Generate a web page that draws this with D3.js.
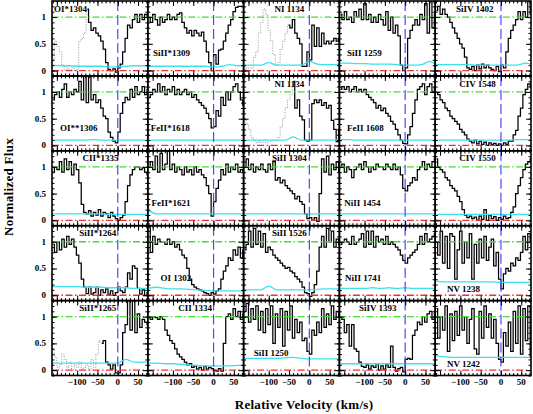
<!DOCTYPE html>
<html>
<head>
<meta charset="utf-8">
<script src="https://cdn.jsdelivr.net/npm/d3@7"></script>
<style>
  body { margin: 0; background: #fff; }
  svg { display: block; }
  text { font-family: "Liberation Serif", "DejaVu Serif", serif; fill: #000; }
</style>
</head>
<body>
<svg width="533" height="414"></svg>
<script>
const _ = null;

// velocity bins (km/s), shared by every panel
const velocity = [-159,-153,-147,-141,-135,-129,-123,-117,-111,-105,-99,-93,-87,-81,-75,-69,-63,-57,-51,-45,
                  -39,-33,-27,-21,-15,-9,-3,3,9,15,21,27,33,39,45,51,57,63,69,75];
// velocities of the error spectrum samples
const errVel = [-162,-140,-120,-100,-80,-60,-40,-20,0,20,40,60,74];

// normalized flux, one array per transition
const fOIs1304 = [_,_,_,_,_,_,_,_,_,_,_,_,_,_,1.15,0.9,0.75,0.8,0.7,0.65,0.55,0.4,0.15,0.02,0.0,0.03,-0.03,0.05,0.12,0.35,0.6,0.85,0.8,0.95,1.05,0.9,1.05,0.95,1.05,1.0];
const fSiIIs1309 = [1.0,0.9,1.05,0.95,0.85,1.0,0.9,0.95,1.05,0.95,1.0,0.95,1.05,1.08,0.9,0.8,0.7,0.75,0.65,0.75,0.7,0.65,0.72,0.55,0.35,0.15,0.0,0.3,0.12,0.38,0.4,0.55,0.7,0.85,0.95,1.1,1.18,1.2,1.2,1.2];
const fNI1134a = [_,_,_,_,_,_,_,_,_,_,_,_,_,_,_,_,_,_,0.85,0.8,0.95,0.7,0.6,0.5,0.08,0.08,0.35,0.2,0.85,0.45,0.8,0.45,0.7,0.5,0.55,0.5,0.55,0.6,0.55,0.6];
const fSiII1259 = [1.05,0.95,1.1,0.95,1.0,0.9,1.1,1.0,1.15,0.95,1.25,0.95,1.05,0.9,1.0,0.9,1.05,0.95,0.85,1.1,0.75,1.0,0.7,0.85,0.65,0.1,0.0,0.05,0.6,0.75,0.85,0.95,0.85,1.05,0.95,1.25,0.7,1.3,0.8,1.05];
const fSiIV1402 = [1.12,1.2,1.05,1.15,1.05,1.0,0.9,0.8,0.7,0.6,0.5,0.42,0.25,0.05,0.02,0.08,0.0,0.1,0.03,0.12,0.05,0.1,0.05,0.02,0.0,0.08,-0.02,0.1,0.05,0.35,0.6,0.75,0.85,0.95,1.1,0.95,1.1,1.0,1.3,1.05];

const fOIss1306 = [0.85,0.95,1.0,0.9,1.05,1.15,0.9,1.0,0.95,1.05,1.0,1.2,0.85,1.3,0.8,1.3,0.85,0.95,0.8,0.85,0.7,0.55,0.5,0.25,0.15,0.08,0.05,0.25,0.6,0.8,0.9,0.85,1.05,0.9,1.1,0.95,1.0,1.1,0.95,1.05];
const fFeIIs1618 = [0.9,0.95,1.05,1.0,1.15,1.0,1.1,0.95,1.05,1.0,1.1,0.95,1.05,0.95,1.0,1.05,0.95,1.0,0.9,0.95,0.85,0.8,0.75,0.7,0.6,0.5,0.33,0.35,0.65,0.55,0.9,0.75,1.0,0.85,1.0,1.1,1.15,1.0,0.85,0.75];
const fNI1134b = [_,_,_,_,_,_,_,_,_,_,_,_,_,_,_,_,_,_,_,_,1.2,0.7,0.85,0.55,0.48,0.1,0.08,0.1,0.78,0.85,0.8,0.85,0.75,0.8,0.7,0.75,0.47,0.3,0.07,0.3];
const fFeII1608 = [1.05,1.1,1.05,1.1,1.0,1.05,1.1,1.0,1.05,1.0,1.05,0.95,0.9,0.85,0.8,0.7,0.75,0.65,0.7,0.6,0.55,0.45,0.4,0.3,0.2,0.1,0.04,0.03,0.2,0.35,0.6,0.85,1.05,1.1,1.15,0.95,1.1,1.15,1.0,1.1];
const fCIV1548 = [1.0,0.95,0.85,0.8,0.7,0.65,0.55,0.5,0.45,0.4,0.3,0.25,0.2,0.12,0.08,0.05,0.1,0.03,0.08,0.02,0.06,0.0,0.05,0.02,0.04,0.0,0.03,0.0,0.05,0.02,0.08,0.08,0.2,0.28,0.55,0.7,0.95,1.05,1.15,1.1];

const fCIIs1335 = [0.9,1.0,0.95,1.1,0.9,1.15,0.95,1.1,0.85,1.05,0.95,0.7,0.3,0.15,0.12,0.18,0.08,0.15,0.1,0.2,0.08,0.15,0.12,0.05,0.15,0.08,0.03,0.0,0.05,0.1,0.35,0.65,0.85,0.95,1.0,1.0,0.95,0.98,0.9,0.85];
const fFeIIs1621 = [1.0,1.1,0.95,1.2,0.9,1.25,0.95,1.05,1.3,0.95,1.05,0.9,1.0,0.95,0.85,1.0,0.9,0.95,0.85,1.0,0.9,0.95,0.85,0.8,0.65,0.5,0.08,0.35,0.6,0.75,0.95,0.85,1.05,0.9,1.0,0.95,1.05,0.9,0.95,0.9];
const fSiII1304 = [1.0,1.15,0.95,1.05,0.9,1.0,0.95,1.05,0.95,0.9,1.05,0.95,1.1,0.75,0.8,0.7,0.75,0.65,0.6,0.55,0.5,0.4,0.45,0.35,0.3,0.12,0.03,0.05,0.0,0.05,-0.02,0.5,1.15,0.9,1.2,0.85,1.05,0.95,1.1,0.9];
const fNiII1454 = [1.0,1.05,0.9,1.0,0.95,0.8,0.95,1.0,1.05,0.95,1.1,1.0,0.9,1.0,0.95,1.05,1.0,1.0,0.95,1.05,1.0,0.95,1.05,0.95,1.0,0.85,0.6,0.55,0.65,0.7,0.8,0.75,0.95,1.0,1.1,0.95,1.05,1.0,1.1,1.15];
const fCIV1550 = [1.15,1.0,0.95,0.9,0.8,0.75,0.65,0.6,0.55,0.45,0.35,0.2,0.1,0.05,0.08,0.03,0.06,0.0,0.08,0.02,0.2,0.0,0.1,0.03,0.07,0.0,0.05,0.02,0.08,0.03,0.05,0.15,0.25,0.5,0.65,0.8,0.95,1.05,1.1,1.15];

const fSiIIs1264 = [0.95,0.8,1.0,0.85,1.05,0.9,1.1,0.95,1.05,0.9,0.75,0.6,0.3,0.15,0.03,0.15,0.02,0.05,0.15,0.0,0.1,0.05,0.12,0.02,0.08,0.0,0.05,0.15,0.08,0.05,0.15,0.42,0.3,0.55,0.5,0.13,0.02,0.1,0.0,0.05];
const fOI1302 = [1.3,0.8,1.1,0.95,1.05,1.0,1.0,0.95,1.05,0.95,1.0,0.9,0.95,0.85,0.75,0.7,0.5,0.3,0.2,0.15,0.12,0.1,0.08,0.05,0.03,0.0,0.05,0.02,0.08,0.12,0.3,0.45,0.55,0.7,0.65,0.85,0.75,0.9,0.7,0.85];
const fSiII1526 = [0.85,0.95,1.2,0.9,1.25,0.95,1.2,0.9,1.15,0.8,0.9,0.85,0.75,0.7,0.65,0.6,0.55,0.5,0.52,0.45,0.42,0.35,0.3,0.25,0.15,0.05,0.03,-0.02,0.05,0.2,0.45,0.9,1.1,0.9,1.25,1.0,1.2,0.9,1.05,0.95];
const fNiII1741 = [0.95,1.0,1.05,1.0,0.95,1.1,0.95,1.0,1.05,1.15,0.9,1.2,0.95,1.2,0.9,1.1,1.0,1.05,0.95,1.1,0.95,1.0,0.95,0.9,0.85,0.75,0.65,0.6,0.7,0.75,0.8,0.85,0.95,1.1,0.95,1.15,1.0,1.05,1.1,1.15];
const fNV1238 = [1.0,0.75,1.2,0.6,1.1,0.5,1.15,1.1,0.3,0.85,1.2,0.6,1.0,0.7,1.15,0.3,0.95,0.6,1.05,0.7,1.1,0.65,0.9,1.05,0.55,0.8,0.3,0.12,0.4,0.5,0.45,0.6,0.55,0.7,0.65,0.8,1.1,0.85,1.15,1.0];

const fSiIIs1265 = [_,_,_,_,_,_,_,_,_,_,_,_,_,_,_,_,_,_,_,_,0.5,0.55,0.15,0.1,0.02,0.1,-0.05,-0.05,0.1,0.7,0.85,1.3,0.75,1.3,0.7,1.05,0.8,0.95,0.9,0.85];
const fCII1334 = [1.0,0.95,1.0,0.98,0.95,1.0,0.95,0.75,0.65,0.55,0.5,0.4,0.3,0.25,0.2,0.15,0.1,0.12,0.05,0.08,0.02,0.05,0.0,0.07,0.02,0.05,0.03,0.0,-0.02,0.03,-0.02,0.5,1.0,1.05,0.95,1.15,1.0,1.1,0.95,1.05];
const fSiII1250 = [1.1,1.25,0.9,1.15,0.95,1.2,0.75,1.1,0.7,1.15,0.85,1.2,0.5,1.05,0.8,1.15,0.45,1.1,0.75,1.2,0.6,0.95,0.7,0.9,0.55,0.6,0.35,0.3,0.75,0.65,0.9,0.7,1.15,0.8,1.05,0.85,1.2,0.95,1.1,1.0];
const fSiIV1393 = [1.0,0.95,0.7,0.85,0.45,0.85,0.4,0.35,0.15,0.07,0.05,0.1,0.02,0.08,0.05,0.12,0.0,0.08,0.02,0.1,0.05,0.45,0.05,-0.02,0.03,0.05,-0.03,0.2,0.22,0.2,0.65,0.75,0.9,0.85,1.0,0.9,1.05,1.1,0.95,1.1];
const fNV1242 = [1.15,0.6,1.0,0.75,1.2,0.35,1.05,0.55,1.1,0.65,1.2,0.75,1.0,0.5,0.95,1.15,0.4,0.3,1.1,0.6,1.2,0.8,1.05,0.6,0.95,0.5,0.2,0.15,0.7,0.45,0.9,0.35,1.1,0.5,1.2,0.3,1.15,0.55,1.2,0.25];

// blended / other-line flux (dotted)
const dOIs1304 = [0.2,0.55,0.45,0.35,0.1,0.02,0.05,0.0,0.05,0.0,0.03,0.55,0.6,0.7,1.15,_,_,_,_,_,_,_,_,_,_,_,_,_,_,_,_,_,_,_,_,_,_,_,_,_];
const dNI1134a = [0.02,0.05,0.0,0.05,0.25,0.35,0.7,0.9,1.15,1.05,0.75,0.55,0.3,0.1,0.15,0.4,0.55,0.7,0.85,_,_,_,_,_,_,_,_,_,_,_,_,_,_,_,_,_,_,_,_,_];
const dNI1134b = [0.5,0.4,0.3,0.15,0.1,0.05,0.08,0.05,0.1,0.05,0.08,0.08,0.1,0.1,0.15,0.35,0.5,0.7,0.85,0.95,1.2,_,_,_,_,_,_,_,_,_,_,_,_,_,_,_,_,_,_,_];
const dSiIIs1265 = [0.4,0.25,0.05,0.1,0.3,0.2,0.05,0.15,0.0,0.1,0.05,0.15,0.02,0.05,0.1,0.0,0.2,0.05,0.3,0.55,0.5,_,_,_,_,_,_,_,_,_,_,_,_,_,_,_,_,_,_,_];

// 1-sigma error spectra, sampled at errVel
const errs = [
  [0.1,0.09,0.09,0.08,0.08,0.08,0.08,0.07,0.07,0.08,0.09,0.09,0.09],
  [0.08,0.08,0.08,0.08,0.08,0.08,0.08,0.08,0.07,0.08,0.11,0.09,0.09],
  [0.1,0.1,0.1,0.15,0.1,0.1,0.1,0.1,0.17,0.12,0.11,0.11,0.11],
  [0.14,0.14,0.13,0.13,0.12,0.12,0.12,0.11,0.1,0.1,0.11,0.17,0.12],
  [0.11,0.11,0.11,0.11,0.11,0.1,0.1,0.1,0.1,0.1,0.1,0.14,0.12],
  [0.1,0.1,0.1,0.1,0.1,0.11,0.1,0.1,0.1,0.1,0.1,0.1,0.1],
  [0.1,0.1,0.1,0.1,0.1,0.1,0.1,0.1,0.1,0.1,0.1,0.1,0.1],
  [0.1,0.1,0.1,0.1,0.1,0.1,0.16,0.1,0.1,0.1,0.1,0.1,0.1],
  [0.11,0.11,0.1,0.1,0.1,0.1,0.1,0.1,0.1,0.1,0.1,0.1,0.1],
  [0.1,0.1,0.1,0.1,0.1,0.1,0.1,0.1,0.1,0.1,0.11,0.11,0.11],
  [0.12,0.12,0.12,0.12,0.12,0.12,0.12,0.11,0.11,0.11,0.11,0.11,0.11],
  [0.2,0.12,0.12,0.12,0.12,0.12,0.12,0.12,0.12,0.12,0.12,0.12,0.12],
  [0.12,0.12,0.12,0.12,0.12,0.12,0.12,0.12,0.12,0.12,0.12,0.12,0.12],
  [0.12,0.12,0.12,0.12,0.12,0.12,0.12,0.12,0.12,0.12,0.12,0.12,0.12],
  [0.11,0.11,0.11,0.11,0.11,0.11,0.11,0.11,0.11,0.11,0.11,0.11,0.11],
  [0.16,0.16,0.16,0.16,0.15,0.15,0.15,0.14,0.14,0.14,0.13,0.13,0.13],
  [0.13,0.15,0.13,0.12,0.12,0.11,0.1,0.09,0.08,0.08,0.08,0.08,0.08],
  [0.1,0.1,0.1,0.17,0.1,0.1,0.1,0.1,0.1,0.11,0.12,0.12,0.12],
  [0.13,0.13,0.13,0.13,0.14,0.13,0.14,0.13,0.14,0.13,0.13,0.13,0.13],
  [0.27,0.25,0.25,0.25,0.25,0.25,0.25,0.25,0.24,0.24,0.24,0.24,0.24],
  [0.13,0.13,0.13,0.13,0.13,0.13,0.13,0.13,0.13,0.2,0.15,0.15,0.15],
  [0.13,0.13,0.12,0.12,0.11,0.1,0.09,0.08,0.08,0.08,0.08,0.09,0.09],
  [0.22,0.22,0.22,0.22,0.22,0.23,0.24,0.22,0.21,0.21,0.21,0.21,0.21],
  [0.12,0.12,0.12,0.12,0.12,0.12,0.12,0.12,0.12,0.12,0.12,0.12,0.12],
  [0.27,0.25,0.24,0.24,0.24,0.24,0.24,0.24,0.24,0.24,0.24,0.24,0.24]
];

const ionLabels = ["OI*1304","SiII*1309","NI 1134","SiII 1259","SiIV 1402",
                   "OI**1306","FeII*1618","NI 1134","FeII 1608","CIV 1548",
                   "CII*1335","FeII*1621","SiII 1304","NiII 1454","CIV 1550",
                   "SiII*1264","OI 1302","SiII 1526","NiII 1741","NV 1238",
                   "SiII*1265","CII 1334","SiII 1250","SiIV 1393","NV 1242"];
// label anchor in data units (velocity, flux)
const labelVel = [-157,-149,-86,-143,-111, -142,-155,-86,-143,-103, -87,-153,-92,-150,-103, -95,-131,-92,-148,-133, -95,-87,-137,-114,-133];
const labelFlux = [1.1,0.27,1.1,0.27,1.1, 0.27,0.27,1.1,0.27,1.1, 1.1,0.27,1.1,0.27,1.1, 1.1,0.27,1.1,0.27,0.06, 1.1,1.1,0.27,1.1,0.06];

const fluxes = [fOIs1304,fSiIIs1309,fNI1134a,fSiII1259,fSiIV1402,
                fOIss1306,fFeIIs1618,fNI1134b,fFeII1608,fCIV1548,
                fCIIs1335,fFeIIs1621,fSiII1304,fNiII1454,fCIV1550,
                fSiIIs1264,fOI1302,fSiII1526,fNiII1741,fNV1238,
                fSiIIs1265,fCII1334,fSiII1250,fSiIV1393,fNV1242];
const blends = [dOIs1304,_,dNI1134a,_,_, _,_,dNI1134b,_,_, _,_,_,_,_, _,_,_,_,_, dSiIIs1265,_,_,_,_];

const xTickLabels = [-100,-50,0,50];
const yTickLabels = [0,0.5,1];

// ---- layout
const mLeft = 52, mRight = 531, mTop = 1, mBottom = 375.5;
const pw = (mRight - mLeft) / 5, ph = (mBottom - mTop) / 5;

const x = d3.scaleLinear().domain([-162, 74]).range([0, pw]);
const y = d3.scaleLinear().domain([-0.1, 1.3]).range([ph, 0]);

const svg = d3.select("svg");
svg.append("defs").append("clipPath").attr("id", "clip")
  .append("rect").attr("width", pw).attr("height", ph);

const stepLine = d3.line()
  .defined(d => d[1] != null)
  .x(d => x(d[0])).y(d => y(d[1]))
  .curve(d3.curveStep);
const errLine = d3.line().x(d => x(d[0])).y(d => y(d[1])).curve(d3.curveMonotoneX);

const xMinor = d3.range(-160, 75, 10), xMajor = [-150,-100,-50,0,50];
const yMinor = d3.range(-0.1, 1.31, 0.1), yMajor = [0,0.5,1];

function ticks(g) {
  const a = [
    [d3.axisBottom(x), `translate(0,${ph})`, xMinor, 2.5], [d3.axisBottom(x), `translate(0,${ph})`, xMajor, 5],
    [d3.axisTop(x), null, xMinor, 2.5], [d3.axisTop(x), null, xMajor, 5],
    [d3.axisLeft(y), null, yMinor, 2.5], [d3.axisLeft(y), null, yMajor, 5],
    [d3.axisRight(y), `translate(${pw},0)`, yMinor, 2.5], [d3.axisRight(y), `translate(${pw},0)`, yMajor, 5]
  ];
  a.forEach(([ax, tr, vals, size]) => {
    const t = g.append("g").call(ax.tickValues(vals).tickSize(-size).tickFormat(""));
    if (tr) t.attr("transform", tr);
    t.select(".domain").remove();
    t.selectAll("line").attr("stroke", "#000").attr("stroke-width", 1);
  });
}

fluxes.forEach((flux, i) => {
  const c = i % 5, r = Math.floor(i / 5);
  const g = svg.append("g").attr("transform", `translate(${mLeft + c * pw},${mTop + r * ph})`);
  const plot = g.append("g").attr("clip-path", "url(#clip)");

  if (blends[i]) {
    plot.append("path").datum(velocity.map((v, k) => [v, blends[i][k]]))
      .attr("d", stepLine).attr("fill", "none")
      .attr("stroke", "#8a8a8a").attr("stroke-width", 0.9).attr("stroke-dasharray", "1,1.5");
  }
  plot.append("path").datum(velocity.map((v, k) => [v, flux[k]]))
    .attr("d", stepLine).attr("fill", "none")
    .attr("stroke", "#000").attr("stroke-width", 1.25);

  plot.append("path").datum(errVel.map((v, k) => [v, errs[i][k]]))
    .attr("d", errLine).attr("fill", "none")
    .attr("stroke", "#3ee0ee").attr("stroke-width", 1.3);

  plot.append("line").attr("x1", 0).attr("x2", pw).attr("y1", y(0)).attr("y2", y(0))
    .attr("stroke", "#ee3030").attr("stroke-width", 1.3).attr("stroke-dasharray", "7,2.5,1.5,2.5");
  plot.append("line").attr("x1", 0).attr("x2", pw).attr("y1", y(1)).attr("y2", y(1))
    .attr("stroke", "#44dd33").attr("stroke-width", 1.3).attr("stroke-dasharray", "7,2.5,1.5,2.5");
  plot.append("line").attr("x1", x(0)).attr("x2", x(0)).attr("y1", 0).attr("y2", ph)
    .attr("stroke", "#4848ff").attr("stroke-width", 1.2).attr("stroke-dasharray", "10,4");

  ticks(g);
  g.append("rect").attr("width", pw).attr("height", ph)
    .attr("fill", "none").attr("stroke", "#000").attr("stroke-width", 1.6);

  g.append("text").attr("x", x(labelVel[i])).attr("y", y(labelFlux[i]))
    .attr("font-size", 9).attr("font-weight", "bold").text(ionLabels[i]);

  if (r === 4) {
    g.selectAll(null).data(xTickLabels).enter().append("text")
      .attr("x", d => x(d)).attr("y", ph + 10).attr("text-anchor", "middle")
      .attr("font-size", 9).attr("font-weight", "bold")
      .text(d => d < 0 ? "\u2212" + Math.abs(d) : d);
  }
  if (c === 0) {
    g.selectAll(null).data(yTickLabels).enter().append("text")
      .attr("x", -6).attr("y", d => y(d) + 3).attr("text-anchor", "end")
      .attr("font-size", 9).attr("font-weight", "bold")
      .text(d => d);
  }
});

svg.append("text").attr("x", 304).attr("y", 409).attr("text-anchor", "middle")
  .attr("font-size", 13).attr("font-weight", "bold").attr("letter-spacing", 0.3)
  .text("Relative Velocity (km/s)");
svg.append("text").attr("transform", "translate(13,187) rotate(-90)").attr("text-anchor", "middle")
  .attr("font-size", 13).attr("font-weight", "bold").attr("letter-spacing", 0.3)
  .text("Normalized Flux");
</script>
</body>
</html>
